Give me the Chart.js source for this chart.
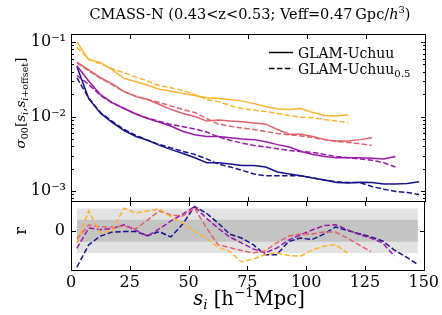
<!DOCTYPE html>
<html>
<head>
<meta charset="utf-8">
<script src="https://cdn.jsdelivr.net/npm/chart.js@4.4.1/dist/chart.umd.min.js"></script>
<style>
html, body { margin: 0; padding: 0; background: #fff; }
#wrap { position: relative; width: 442px; height: 315px; }
#wrap canvas { position: absolute; left: 0; top: 0; }
</style>
</head>
<body>
<div id="wrap">
  <canvas id="topPanel" width="442" height="315"></canvas>
  <canvas id="botPanel" width="442" height="315"></canvas>
</div>
<script>
// bin centres s_i
var sBins = [2.5, 7.5, 12.5, 17.5, 22.5, 27.5, 32.5, 37.5, 42.5, 47.5, 52.5, 57.5, 62.5, 67.5, 72.5,
             77.5, 82.5, 87.5, 92.5, 97.5, 102.5, 107.5, 112.5, 117.5, 122.5, 127.5, 132.5, 137.5, 142.5, 147.5];

// sigma_00 values, GLAM-Uchuu (solid) and GLAM-Uchuu_0.5 (dashed)
var orangeSolid = [0.101, 0.0575, 0.0533, 0.0423, 0.0326, 0.0293, 0.0263, 0.0232, 0.0219, 0.0203, 0.0191, 0.0179,
                   0.0174, 0.0169, 0.0161, 0.0149, 0.0136, 0.0126, 0.0124, 0.0128, 0.0113, 0.0103, 0.0102, 0.0106];
var orangeDash = [0.085, 0.0593, 0.0509, 0.0437, 0.0386, 0.0338, 0.0300, 0.0259, 0.0244, 0.0222, 0.0197, 0.0169,
                  0.0158, 0.0140, 0.0128, 0.0122, 0.0117, 0.0110, 0.0103, 0.0098, 0.0096, 0.0091, 0.0087, 0.0083];
var pinkSolid = [0.0536, 0.0423, 0.0331, 0.0275, 0.0216, 0.0185, 0.0169, 0.0145, 0.0124, 0.0110, 0.0100, 0.0087, 0.0090,
                 0.0087, 0.0085, 0.0082, 0.0079, 0.0067, 0.0058, 0.0058, 0.0054, 0.0049, 0.0047, 0.0047, 0.0049, 0.0052];
var pinkDash = [0.0525, 0.0410, 0.0326, 0.0267, 0.0216, 0.0188, 0.0169, 0.0154, 0.0138, 0.0124, 0.0113, 0.0094, 0.0079,
                0.0074, 0.0070, 0.0067, 0.0063, 0.0059, 0.0057, 0.0055, 0.0052, 0.0049, 0.0046, 0.0045, 0.0043, 0.0041];
var purpleSolid = [0.048, 0.0300, 0.0196, 0.0154, 0.0128, 0.0108, 0.0094, 0.0084, 0.0074, 0.0063, 0.0057, 0.0054, 0.0054, 0.0052,
                   0.0050, 0.0049, 0.0046, 0.0042, 0.0039, 0.0034, 0.0031, 0.0029, 0.0028, 0.0028, 0.0028, 0.00275, 0.0027, 0.0029];
var purpleDash = [0.0355, 0.0270, 0.0192, 0.0152, 0.0128, 0.0108, 0.0095, 0.0086, 0.0078, 0.0073, 0.0068, 0.0062, 0.0053, 0.0048,
                  0.0044, 0.0041, 0.0039, 0.0037, 0.0035, 0.0034, 0.0033, 0.0031, 0.0029, 0.0028, 0.0027, 0.0026, 0.0024, 0.0021];
var blueSolid = [0.0469, 0.0174, 0.0111, 0.0083, 0.0065, 0.0054, 0.0048, 0.0041, 0.0036, 0.0032, 0.0028, 0.0024, 0.0024, 0.0023, 0.0022,
                 0.0022, 0.0021, 0.0018, 0.0017, 0.0016, 0.0015, 0.00141, 0.0013, 0.00128, 0.00131, 0.0013, 0.00124, 0.00124, 0.00126, 0.00133];
var blueDash = [0.0331, 0.0177, 0.0113, 0.0086, 0.0067, 0.0056, 0.0048, 0.0042, 0.0038, 0.0034, 0.0031, 0.0027, 0.0023, 0.0021, 0.0019,
                0.0017, 0.0016, 0.0016, 0.0016, 0.0016, 0.0015, 0.0014, 0.00133, 0.0013, 0.0013, 0.00115, 0.00106, 0.00099, 0.00096, 0.0009];

// r, lower panel (dashed)
var rOrange = [-0.55, 0.9, -0.1, 0.0, 1.02, 0.8, 0.89, 0.98, 0.62, 0.35, -0.03, -0.33, -0.75, -0.93, -1.41, -1.27,
               -1.08, -1.0, -1.11, -1.15, -0.87, -0.7, -0.63, -1.0];
var rPink = [-0.37, 0.26, 0.17, 0.17, 0.21, 0.08, 0.48, 0.89, 0.71, 0.66, 1.02, 0.15, -0.63, -0.76, -0.89, -1.0,
             -0.91, -0.55, -0.24, -0.15, -0.15, -0.06, -0.06, -0.33, -0.64, -0.94];
var rPurple = [-0.8, 0.12, 0.05, 0.1, 0.27, 0.03, -0.24, 0.08, 0.44, 0.75, 1.09, 0.57, 0.12, -0.28, -0.55, -0.82,
               -1.0, -0.78, -0.42, -0.19, 0.03, 0.23, 0.27, 0.05, -0.17, -0.33, -0.55, -1.14];
var rBlue = [-1.64, -0.64, -0.24, -0.06, -0.04, -0.04, -0.22, -0.04, -0.28, 0.3, 1.09, 0.8, 0.35, -0.15, -0.33, -0.63,
             -1.08, -1.08, -0.49, -0.33, -0.4, -0.15, 0.17, 0.01, -0.13, -0.28, -0.46, -0.87, -1.18, -1.52];

var bandEdges = [2.5, 147.5];
var innerBand = 0.5;
var outerBand = 1.0;

var xTicks = [0, 25, 50, 75, 100, 125, 150];
var yTickVals = [0.001, 0.01, 0.1];
var yTickLabels = ['10\u207B\u00B3', '10\u207B\u00B2', '10\u207B\u00B9'];
var legendLabels = ['GLAM-Uchuu', 'GLAM-Uchuu'];

var cOrange = '#fdb32f', cPink = '#e2626d', cPurple = '#9b19a8', cBlue = '#18128c';
var SERIF = '"DejaVu Serif", serif';

function fnt(size, it) { return (it ? 'italic ' : '') + size + 'px ' + SERIF; }

function pts(vals) {
    return vals.map(function (v, i) { return { x: sBins[i], y: v }; });
}

function lineSet(vals, col, dashed) {
    return {
        data: pts(vals), borderColor: col, borderWidth: 1.5,
        borderDash: dashed ? [5.5, 2.4] : [], pointRadius: 0, fill: false, tension: 0, order: 0
    };
}

function bandSet(val, col, fillIt, ord) {
    return {
        data: bandEdges.map(function (x) { return { x: x, y: val }; }),
        borderWidth: 0, borderColor: 'rgba(0,0,0,0)', backgroundColor: col,
        pointRadius: 0, fill: fillIt ? '+1' : false, order: ord
    };
}

function rich(ctx, parts, x, y, align) {
    var w = 0;
    parts.forEach(function (p) { ctx.font = p.f; p.w = ctx.measureText(p.t).width; w += p.w; });
    var cx = align === 'center' ? x - w / 2 : x;
    ctx.textAlign = 'left';
    ctx.textBaseline = 'alphabetic';
    parts.forEach(function (p) { ctx.font = p.f; ctx.fillText(p.t, cx, y + (p.dy || 0)); cx += p.w; });
}

function frameAndTicks(chart, yMajor, yMinor) {
    var ctx = chart.ctx, a = chart.chartArea;
    var sx = chart.scales.x, sy = chart.scales.y;
    var L = Math.round(a.left) + 0.5, R = Math.round(a.right) + 0.5;
    var T = Math.round(a.top) + 0.5, B = Math.round(a.bottom) + 0.5;
    ctx.save();
    ctx.strokeStyle = '#000';
    ctx.lineWidth = 1;
    ctx.beginPath();
    xTicks.forEach(function (v) {
        var px = Math.round(sx.getPixelForValue(v)) + 0.5;
        ctx.moveTo(px, T); ctx.lineTo(px, T + 4.5);
        ctx.moveTo(px, B); ctx.lineTo(px, B - 4.5);
    });
    yMajor.forEach(function (v) {
        var py = Math.round(sy.getPixelForValue(v)) + 0.5;
        ctx.moveTo(L, py); ctx.lineTo(L + 4.5, py);
        ctx.moveTo(R, py); ctx.lineTo(R - 4.5, py);
    });
    yMinor.forEach(function (v) {
        var py = Math.round(sy.getPixelForValue(v)) + 0.5;
        if (py < T || py > B) return;
        ctx.moveTo(L, py); ctx.lineTo(L + 2.5, py);
        ctx.moveTo(R, py); ctx.lineTo(R - 2.5, py);
    });
    ctx.stroke();
    ctx.strokeRect(L, T, R - L, B - T);
    ctx.restore();
}

var minorLog = [];
[0.0001, 0.001, 0.01, 0.1].forEach(function (d) {
    for (var k = 2; k <= 9; k++) minorLog.push(d * k);
});

var topDeco = {
    id: 'topDeco',
    afterDraw: function (chart) {
        frameAndTicks(chart, yTickVals, minorLog);
        var ctx = chart.ctx;
        ctx.save();
        ctx.fillStyle = '#000';
        // title
        rich(ctx, [
            { t: 'CMASS-N (0.43<z<0.53; Veff=0.47\u2009Gpc/', f: fnt(14.5) },
            { t: 'h', f: fnt(14.5, true) },
            { t: '3', f: fnt(10), dy: -6 },
            { t: ')', f: fnt(14.5) }
        ], 250, 18.5, 'center');
        // legend
        ctx.strokeStyle = '#000';
        ctx.lineWidth = 1.5;
        ctx.beginPath(); ctx.moveTo(269, 52.5); ctx.lineTo(293, 52.5); ctx.stroke();
        ctx.setLineDash([5.5, 2.4]);
        ctx.beginPath(); ctx.moveTo(269, 68.5); ctx.lineTo(293, 68.5); ctx.stroke();
        ctx.setLineDash([]);
        rich(ctx, [{ t: legendLabels[0], f: fnt(14) }], 298, 57.5, 'left');
        rich(ctx, [{ t: legendLabels[1], f: fnt(14) }, { t: '0.5', f: fnt(10), dy: 3 }], 298, 73.5, 'left');
        // y label
        ctx.translate(25, 103);
        ctx.rotate(-Math.PI / 2);
        rich(ctx, [
            { t: '\u03C3', f: fnt(13.5, true) },
            { t: '00', f: fnt(9.5), dy: 3 },
            { t: '[', f: fnt(13.5) },
            { t: 's', f: fnt(13.5, true) },
            { t: 'i', f: fnt(9.5, true), dy: 3 },
            { t: ',', f: fnt(13.5) },
            { t: 's', f: fnt(13.5, true) },
            { t: 'i', f: fnt(9.5, true), dy: 3 },
            { t: '+offset', f: fnt(9.5), dy: 3 },
            { t: ']', f: fnt(13.5) }
        ], 0, 0, 'center');
        ctx.restore();
    }
};

var botDeco = {
    id: 'botDeco',
    afterDraw: function (chart) {
        frameAndTicks(chart, [0], []);
        var ctx = chart.ctx;
        ctx.save();
        ctx.fillStyle = '#000';
        rich(ctx, [
            { t: 's', f: fnt(19.5, true) },
            { t: 'i', f: fnt(13.5, true), dy: 4 },
            { t: ' [h', f: fnt(19.5) },
            { t: '\u22121', f: fnt(13.5), dy: -8 },
            { t: 'Mpc]', f: fnt(19.5) }
        ], 249, 305, 'center');
        ctx.translate(26, 231);
        ctx.rotate(-Math.PI / 2);
        rich(ctx, [{ t: 'r', f: fnt(16) }], 0, 0, 'center');
        ctx.restore();
    }
};

var tickFont = { family: SERIF, size: 16 };

new Chart(document.getElementById('topPanel').getContext('2d'), {
    type: 'line',
    data: {
        datasets: [
            lineSet(orangeSolid, cOrange, false), lineSet(orangeDash, cOrange, true),
            lineSet(pinkSolid, cPink, false), lineSet(pinkDash, cPink, true),
            lineSet(purpleSolid, cPurple, false), lineSet(purpleDash, cPurple, true),
            lineSet(blueSolid, cBlue, false), lineSet(blueDash, cBlue, true)
        ]
    },
    options: {
        responsive: false, animation: false, devicePixelRatio: 1,
        layout: { padding: { left: 0, right: 17, top: 34, bottom: 114 } },
        plugins: { legend: { display: false }, tooltip: { enabled: false } },
        scales: {
            x: { type: 'linear', min: 0, max: 150, display: false },
            y: {
                type: 'logarithmic', min: 0.000736, max: 0.128,
                grid: { display: false, drawTicks: false }, border: { display: false },
                ticks: {
                    font: tickFont, color: '#000', padding: 5,
                    callback: function (v) { var i = yTickVals.indexOf(v); return i >= 0 ? yTickLabels[i] : ''; }
                },
                afterBuildTicks: function (s) { s.ticks = yTickVals.map(function (v) { return { value: v }; }); },
                afterFit: function (s) { s.width = 71; }
            }
        }
    },
    plugins: [topDeco]
});

new Chart(document.getElementById('botPanel').getContext('2d'), {
    type: 'line',
    data: {
        datasets: [
            lineSet(rOrange, cOrange, true), lineSet(rPink, cPink, true),
            lineSet(rPurple, cPurple, true), lineSet(rBlue, cBlue, true),
            bandSet(innerBand, '#c4c4c4', true, 1), bandSet(-innerBand, '#c4c4c4', false, 1),
            bandSet(outerBand, '#e3e3e3', true, 2), bandSet(-outerBand, '#e3e3e3', false, 2)
        ]
    },
    options: {
        responsive: false, animation: false, devicePixelRatio: 1,
        layout: { padding: { left: 0, right: 17, top: 201, bottom: 25 } },
        plugins: { legend: { display: false }, tooltip: { enabled: false } },
        scales: {
            x: {
                type: 'linear', min: 0, max: 150,
                grid: { display: false, drawTicks: false }, border: { display: false },
                ticks: { font: tickFont, color: '#000', padding: 3, maxRotation: 0, stepSize: 25 },
                afterBuildTicks: function (s) { s.ticks = xTicks.map(function (v) { return { value: v }; }); },
                afterFit: function (s) { s.height = 20; }
            },
            y: {
                type: 'linear', min: -1.77, max: 1.34,
                grid: { display: false, drawTicks: false }, border: { display: false },
                ticks: { font: tickFont, color: '#000', padding: 6 },
                afterBuildTicks: function (s) { s.ticks = [{ value: 0 }]; },
                afterFit: function (s) { s.width = 71; }
            }
        }
    },
    plugins: [botDeco]
});
</script>
</body>
</html>
